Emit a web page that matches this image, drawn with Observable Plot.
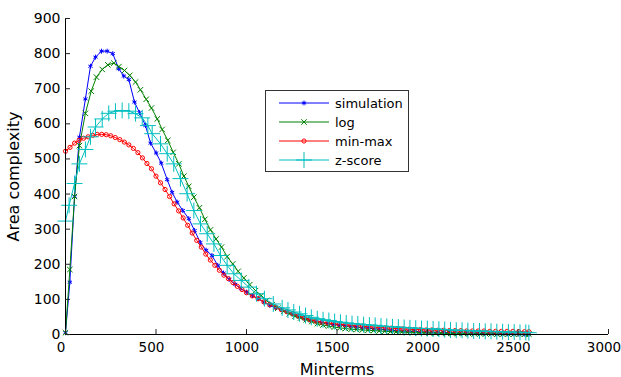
<!DOCTYPE html>
<html><head><meta charset="utf-8">
<script src="https://cdn.jsdelivr.net/npm/d3@7"></script>
<script src="https://cdn.jsdelivr.net/npm/@observablehq/plot@0.6"></script>
<style>
body{margin:0;background:#fff}
#wrap{position:relative;width:621px;height:377px;overflow:hidden}
#wrap svg.plot{font-family:"DejaVu Sans",sans-serif}
g[aria-label="x-axis label"], g[aria-label="y-axis label"]{font-size:16px}
#legend{position:absolute;left:265px;top:90px;width:144px;height:82px;border:1px solid #333;background:#fff;box-sizing:border-box}
</style></head><body><div id="wrap"></div>
<script>
const xTicks = [0,500,1000,1500,2000,2500,3000];
const yTicks = [0,100,200,300,400,500,600,700,800,900];
const seriesNames = ["simulation","log","min-max","z-score"];

const simX = [0,24,50,77,110,138,166,199,230,261,294,322,350,381,409,442,470,501,529,562,589,617,648,681,713,745,777,809,841,873,905,937,969,1001,1033,1065,1097,1129,1161,1193,1225,1257,1289,1321,1353,1385,1417,1449,1481,1513,1545,1577,1609,1641,1673,1705,1737,1769,1801,1833,1865,1897,1929,1961,1993,2025,2057,2089,2121,2153,2185,2217,2249,2281,2313,2345,2377,2409,2441,2473,2505,2537,2560];
const simY = [5,149,393,562,671,764,790,807,807,800,757,736,726,662,632,595,545,517,488,441,405,377,353,330,296,262,240,225,197,175,157,143,131,121,111,102,92,83,76,71,65,58,52,46,41,37,34,31,29,27,25,23,21,19,18,16,15,14,12,11,10,9,9,8,7,7,6,6,5,5,4,4,4,3,3,3,2,2,2,2,1,1,1];

const logX = [0,24,50,77,110,142,171,203,234,267,295,326,355,387,414,446,475,507,534,565,595,626,654,681,709,740,770,801,832,862,893,924,954,985,1018,1050,1081,1110,1142,1173,1206,1237,1268,1299,1330,1361,1392,1423,1454,1485,1516,1547,1578,1609,1640,1671,1702,1733,1764,1795,1826,1857,1888,1919,1950,1981,2012,2043,2074,2105,2136,2167,2198,2229,2260,2291,2322,2353,2384,2415,2446,2477,2508,2539,2560];
const logY = [5,185,393,538,630,693,733,755,768,773,763,752,738,719,697,670,645,614,584,553,519,486,451,422,391,361,328,298,272,249,222,201,180,161,142,125,111,97,85,75,66,59,52,47,42,37,31,27,24,21,19,17,15,14,13,12,11,10,9,8,7,7,6,6,5,5,4,4,4,3,3,3,3,2,2,2,2,2,1,1,1,1,1,1,1];

const mmX = [0,25,50,75,100,125,150,175,200,225,250,275,300,325,350,375,400,425,450,475,500,525,550,575,600,625,650,675,700,725,750,775,800,825,850,875,900,925,950,975,1000,1032,1064,1096,1128,1160,1192,1224,1256,1288,1320,1352,1384,1416,1448,1480,1512,1544,1576,1608,1640,1672,1704,1736,1768,1800,1832,1864,1896,1928,1960,1992,2024,2056,2088,2120,2152,2184,2216,2248,2280,2312,2344,2376,2408,2440,2472,2504,2536,2560];
const mmY = [522,533,545,553,559,563,567,570,570,569,566,561,555,548,540,530,518,503,487,472,451,432,413,393,372,352,332,311,289,268,249,229,212,197,183,169,159,148,137,128,119,110,102,93,85,78,71,65,60,53,47,42,38,35,33,31,29,28,26,25,24,22,21,20,19,18,17,16,15,14,14,13,13,12,12,11,11,11,10,10,10,10,9,9,9,9,9,8,8,8];

const zX = [0,20,50,77,110,138,166,203,239,276,313,350,387,424,455,479,525,562,598,635,672,709,746,783,820,856,893,930,971,1013,1055,1099,1148,1197,1229,1261,1293,1326,1358,1391,1423,1455,1487,1519,1551,1583,1615,1647,1679,1711,1743,1775,1807,1839,1871,1903,1935,1967,1999,2031,2063,2095,2127,2159,2191,2223,2255,2287,2319,2351,2383,2415,2447,2479,2511,2543,2560];
const zY = [323,368,430,486,527,563,591,614,630,636,638,636,629,617,595,572,543,515,486,444,401,353,315,287,258,225,197,173,154,135,116,102,87,76,70,64,59,54,49,45,42,40,37,35,33,31,30,28,27,26,24,23,22,21,20,19,18,17,17,16,15,14,13,12,12,11,10,10,9,9,8,8,7,7,6,6,5];

const styles = [
  {color:"#0000ff", symbol:"asterisk", r:2.3},
  {color:"#008000", symbol:"times", r:2.6},
  {color:"#ff0000", symbol:"circle", r:2.1},
  {color:"#00bfbf", symbol:"plus", r:5.2}
];
const xsAll = [simX, logX, mmX, zX];
const ysAll = [simY, logY, mmY, zY];

const marks = [];
seriesNames.forEach((name, k) => {
  const data = ysAll[k].map((y, i) => ({x: xsAll[k][i], y, name}));
  const st = styles[k];
  marks.push(Plot.line(data, {x:"x", y:"y", stroke: st.color, strokeWidth: 1}));
  marks.push(Plot.dot(data, {x:"x", y:"y", stroke: st.color, symbol: st.symbol, r: st.r, strokeWidth: 1, fill: "none"}));
});

const chart = Plot.plot({
  width: 621, height: 377,
  marginLeft: 65, marginRight: 13, marginTop: 18, marginBottom: 43,
  style: {fontFamily: "DejaVu Sans", fontSize: "14px", color: "#000", background: "#fff"},
  x: {domain: [0, 3000]},
  y: {domain: [0, 900]},
  marks: [
    ...marks,
    Plot.ruleY([0], {stroke: "#000"}),
    Plot.ruleX([0], {stroke: "#000"}),
    Plot.axisX({ticks: xTicks, tickSize: -5, tickFormat: () => "", stroke: "#222",
      label: "Minterms", labelAnchor: "center", labelArrow: "none", labelOffset: 40}),
    Plot.axisX({ticks: xTicks, tickSize: 0, tickPadding: 8, dx: -4.5, fontSize: 13.5, tickFormat: d => String(d), label: null}),
    Plot.axisY({ticks: yTicks, tickSize: -5, tickPadding: 10, tickFormat: d => String(d), stroke: "#222",
      label: "Area complexity", labelAnchor: "center", labelArrow: "none", labelOffset: 58})
  ]
});
const wrap = document.getElementById("wrap");
wrap.appendChild(chart);

// legend overlay
const leg = document.createElement("div");
leg.id = "legend";
wrap.appendChild(leg);
const lsvg = d3.select(leg).append("svg").attr("width", 142).attr("height", 80)
  .style("position","absolute").style("left","0px").style("top","0px")
  .style("font-family","DejaVu Sans").style("font-size","13px");
const symMap = {asterisk: d3.symbolAsterisk, times: d3.symbolTimes, circle: d3.symbolCircle, plus: d3.symbolPlus};
seriesNames.forEach((name, k) => {
  const st = styles[k];
  const cy = 12 + k * 19;
  const g = lsvg.append("g").attr("transform", `translate(0,${cy})`);
  g.append("line").attr("x1", 13).attr("x2", 63).attr("y1", 0).attr("y2", 0).attr("stroke", st.color).attr("stroke-width", 1);
  g.append("path").attr("transform", "translate(38,0)")
    .attr("d", d3.symbol(symMap[st.symbol], Math.PI * st.r * st.r)())
    .attr("fill", "none").attr("stroke", st.color).attr("stroke-width", 1);
  g.append("text").attr("x", 69).attr("y", 0).attr("dy", "0.35em").attr("fill", "#000").text(name);
});
</script></body></html>
